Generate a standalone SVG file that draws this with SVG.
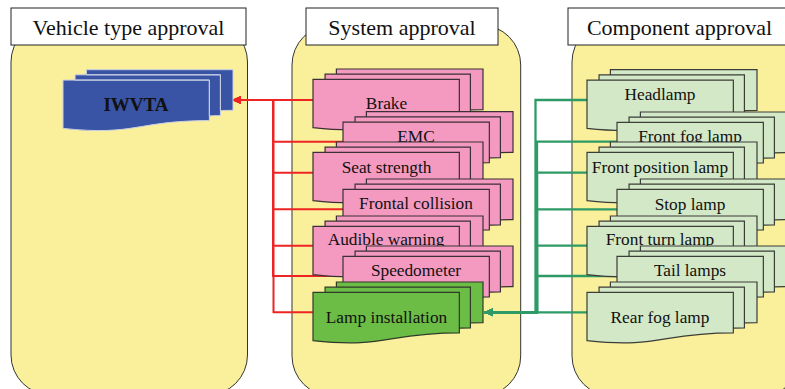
<svg xmlns="http://www.w3.org/2000/svg" width="785" height="389" viewBox="0 0 785 389">
<style>
.panel{fill:#faf09b;stroke:#333;stroke-width:1}
.title{fill:#fff;stroke:#222;stroke-width:1}
.ttl{font-family:"Liberation Serif","Times New Roman",serif;font-size:22px;fill:#111;text-anchor:middle}
.lbl{font-family:"Liberation Serif","Times New Roman",serif;font-size:17.3px;fill:#111;text-anchor:middle}
.pink{fill:#f49ac1;stroke:#3a3035;stroke-width:1.2}
.lgreen{fill:#d3e8c7;stroke:#3a3d38;stroke-width:1.2}
.dgreen{fill:#6cbd45;stroke:#2f3a2a;stroke-width:1.2}
.blue{fill:#3953a5;stroke:#c9cfe4;stroke-width:1}
.red{fill:none;stroke:#ee2424;stroke-width:2}
.grn{fill:none;stroke:#2e9b67;stroke-width:2.3}
</style>
<defs>
<path id="md" d="M0,58.69 C73.18,66.48 73.18,50.9 146.35,50.9 L146.35,10.38 L0,10.38 Z M12.06,10.38 L12.06,5.13 L157.41,5.13 L157.41,45.9 C151.88,45.9 146.35,46.18 146.35,46.18 L146.35,10.38 Z M23.39,5.13 L23.39,0 L170,0 L170,40.64 C163.7,40.64 157.41,40.86 157.41,40.86 L157.41,5.13 Z"/>
<marker id="arrR" markerUnits="userSpaceOnUse" markerWidth="10" markerHeight="10" refX="9" refY="5" orient="auto"><path d="M0,1 L9,5 L0,9 Z" fill="#ee2424"/></marker>
<marker id="arrG" markerUnits="userSpaceOnUse" markerWidth="10" markerHeight="10" refX="9" refY="5" orient="auto"><path d="M0,1 L9,5 L0,9 Z" fill="#2e9b67"/></marker>
</defs>

<g id="panel-vehicle">
<rect class="panel" x="11" y="22" width="236.5" height="373" rx="40"/>
<rect class="title" x="11" y="8" width="235" height="37"/>
<text class="ttl" x="128.5" y="34.5">Vehicle type approval</text>
</g>
<g id="panel-system">
<rect class="panel" x="292" y="25" width="228.7" height="371" rx="40"/>
<rect class="title" x="306" y="8" width="192" height="37"/>
<text class="ttl" x="402" y="34.5">System approval</text>
</g>
<g id="panel-component">
<rect class="panel" x="572" y="22" width="229" height="374" rx="40"/>
<rect class="title" x="568" y="8" width="223" height="37"/>
<text class="ttl" x="679.5" y="34.5">Component approval</text>
</g>

<g id="connectors">
<path class="red" d="M313,100 H232" marker-end="url(#arrR)"/>
<path class="red" d="M343,141.7 H273 V100 H232" marker-end="url(#arrR)"/>
<path class="red" d="M313,172.7 H273 V100 H232" marker-end="url(#arrR)"/>
<path class="red" d="M343,209.3 H273 V100 H232" marker-end="url(#arrR)"/>
<path class="red" d="M313,245.7 H273 V100 H232" marker-end="url(#arrR)"/>
<path class="red" d="M343,276 H273 V100 H232" marker-end="url(#arrR)"/>
<path class="red" d="M313,312.3 H273.5 V100 H232" marker-end="url(#arrR)"/>
<path class="grn" d="M587,100 H535.5 V312.3 H484" marker-end="url(#arrG)"/>
<path class="grn" d="M617,141.7 H537 V312.3 H484" marker-end="url(#arrG)"/>
<path class="grn" d="M587,172.7 H537 V312.3 H484" marker-end="url(#arrG)"/>
<path class="grn" d="M617,209.3 H537 V312.3 H484" marker-end="url(#arrG)"/>
<path class="grn" d="M587,245.7 H537 V312.3 H484" marker-end="url(#arrG)"/>
<path class="grn" d="M617,276 H537 V312.3 H484" marker-end="url(#arrG)"/>
<path class="grn" d="M587,312.3 H484" marker-end="url(#arrG)"/>
</g>

<g id="iwvta"><use href="#md" class="blue" x="63" y="69.7"/><text class="lbl" x="136" y="111" style="font-weight:bold;font-size:19px">IWVTA</text></g>

<g id="brake"><use href="#md" class="pink" x="313" y="69"/><text class="lbl" x="386.5" y="109">Brake</text></g>
<g id="emc"><use href="#md" class="pink" x="343" y="111.7"/><text class="lbl" x="416" y="142">EMC</text></g>
<g id="seat-strength"><use href="#md" class="pink" x="313" y="142"/><text class="lbl" x="386.5" y="172.7">Seat strength</text></g>
<g id="frontal-collision"><use href="#md" class="pink" x="343" y="179"/><text class="lbl" x="416" y="208.5">Frontal collision</text></g>
<g id="audible-warning"><use href="#md" class="pink" x="313" y="216"/><text class="lbl" x="386" y="245">Audible warning</text></g>
<g id="speedometer"><use href="#md" class="pink" x="343" y="246"/><text class="lbl" x="416" y="276">Speedometer</text></g>
<g id="lamp-installation"><use href="#md" class="dgreen" x="313" y="282"/><text class="lbl" x="386.5" y="323.3">Lamp installation</text></g>

<g id="headlamp"><use href="#md" class="lgreen" x="587" y="69.7"/><text class="lbl" x="660" y="100">Headlamp</text></g>
<g id="front-fog-lamp"><use href="#md" class="lgreen" x="617" y="112"/><text class="lbl" x="690" y="141.7">Front fog lamp</text></g>
<g id="front-position-lamp"><use href="#md" class="lgreen" x="587" y="142"/><text class="lbl" x="660" y="173.3">Front position lamp</text></g>
<g id="stop-lamp"><use href="#md" class="lgreen" x="617" y="179"/><text class="lbl" x="690" y="209.5">Stop lamp</text></g>
<g id="front-turn-lamp"><use href="#md" class="lgreen" x="587" y="216"/><text class="lbl" x="660" y="245">Front turn lamp</text></g>
<g id="tail-lamps"><use href="#md" class="lgreen" x="617" y="246"/><text class="lbl" x="690" y="276">Tail lamps</text></g>
<g id="rear-fog-lamp"><use href="#md" class="lgreen" x="587" y="282"/><text class="lbl" x="660" y="323.3">Rear fog lamp</text></g>
</svg>
